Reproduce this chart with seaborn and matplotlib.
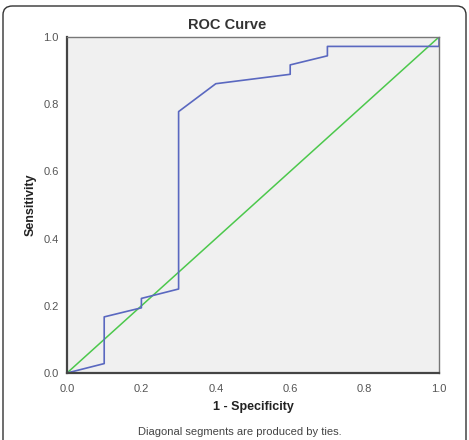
import numpy as np
import pandas as pd
import matplotlib
matplotlib.use('Agg')
import matplotlib.pyplot as plt
import seaborn as sns
from matplotlib.patches import FancyBboxPatch

# ROC curve points (1 - specificity, sensitivity)
fpr = [0.0, 0.1, 0.1, 0.2, 0.2, 0.3, 0.3, 0.4, 0.6, 0.6, 0.7, 0.7, 1.0, 1.0]
tpr = [0.0, 0.028, 0.167, 0.194, 0.222, 0.25, 0.778, 0.861, 0.889, 0.917, 0.944, 0.972, 0.972, 1.0]
ref_line = [0.0, 1.0]
ticks = [0.0, 0.2, 0.4, 0.6, 0.8, 1.0]
tick_labels = ['0.0', '0.2', '0.4', '0.6', '0.8', '1.0']

sns.set_style('white')
plt.rcParams['font.family'] = ['Liberation Sans', 'DejaVu Sans']

fig = plt.figure(figsize=(4.69, 4.40), dpi=100)
ax = fig.add_axes([67 / 469, 1 - 373 / 440, 372 / 469, 336 / 440])
ax.set_facecolor('#f0f0f0')

roc = pd.DataFrame({'fpr': fpr, 'tpr': tpr})
ref = pd.DataFrame({'x': ref_line, 'y': ref_line})
sns.lineplot(data=ref, x='x', y='y', ax=ax, color='#4cc84c', linewidth=1.1,
             sort=False, estimator=None)
sns.lineplot(data=roc, x='fpr', y='tpr', ax=ax, color='#5a68c0', linewidth=1.2,
             sort=False, estimator=None)

ax.set_xlim(0, 1)
ax.set_ylim(0, 1)
ax.set_xticks(ticks)
ax.set_xticklabels(tick_labels)
ax.set_yticks(ticks)
ax.set_yticklabels(tick_labels)
ax.tick_params(direction='out', length=4, width=1, colors='#444444',
               labelcolor='#555555', labelsize=8, pad=2)
ax.tick_params(axis='x', pad=4)
ax.set_xlabel('')
ax.set_ylabel('')
for side in ['left', 'bottom']:
    ax.spines[side].set_color('#444444')
    ax.spines[side].set_linewidth(1.6)
for side in ['top', 'right']:
    ax.spines[side].set_color('#777777')
    ax.spines[side].set_linewidth(1.0)

fig.text(227 / 469, 1 - 25 / 440, 'ROC Curve', ha='center', va='center',
         fontsize=10.5, fontweight='bold', color='#333333')
fig.text(253 / 469, 1 - 407 / 440, '1 - Specificity', ha='center', va='center',
         fontsize=9, fontweight='bold', color='#222222')
fig.text(31 / 469, 1 - 205 / 440, 'Sensitivity', ha='center', va='center',
         rotation=90, fontsize=9, fontweight='bold', color='#222222')
fig.text(240 / 469, 1 - 432 / 440, 'Diagonal segments are produced by ties.',
         ha='center', va='center', fontsize=8, color='#444444')

# rounded outer frame
frame = FancyBboxPatch((3 / 469, -0.05), 463 / 469, 1 - 6 / 440 + 0.05,
                       boxstyle='round,pad=0,rounding_size=0.02',
                       transform=fig.transFigure, fill=False,
                       edgecolor='#333333', linewidth=1.0)
fig.patches.append(frame)

fig.savefig('out.png', dpi=100)
